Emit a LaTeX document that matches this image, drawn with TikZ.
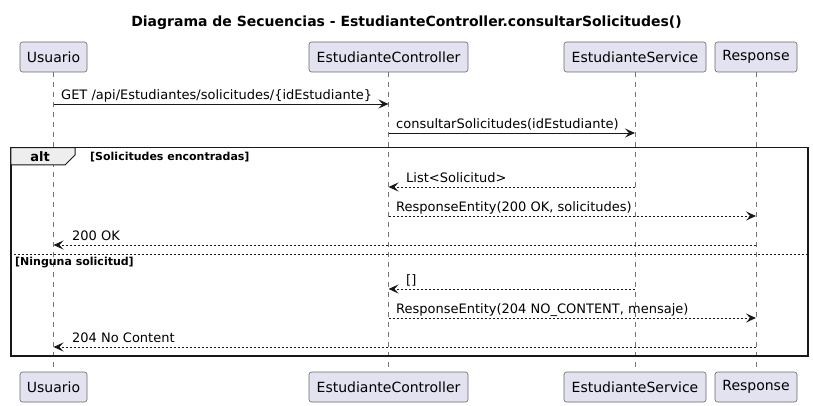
\documentclass[tikz,border=0pt]{standalone}
\usepackage{fontspec}
\setmainfont{DejaVu Sans}
\usetikzlibrary{arrows.meta}
\definecolor{partfill}{HTML}{E2E2F0}
\definecolor{ink}{HTML}{181818}
\definecolor{tabfill}{HTML}{EEEEEE}
\begin{document}
\begin{tikzpicture}[x=1pt,y=-1pt,
  part/.style={draw=ink!65,fill=partfill,rounded corners=2.5pt,line width=0.6pt,minimum height=30pt,inner sep=0pt,font=\fontsize{14}{16}\selectfont},
  lifeline/.style={draw=ink!60,line width=0.6pt,dash pattern=on 5pt off 5pt},
  msg/.style={draw=ink,line width=0.9pt,-{Stealth[length=10pt,width=9pt,inset=4pt]}},
  ret/.style={msg,dash pattern=on 2pt off 2pt},
  lbl/.style={font=\fontsize{13}{15}\selectfont,anchor=base west,inner sep=0pt,text=black},
  guard/.style={font=\bfseries\fontsize{11}{13}\selectfont,anchor=base west,inner sep=0pt}]
\useasboundingbox (0,0) rectangle (813,406);
% title
\node[font=\bfseries\fontsize{14}{16}\selectfont,anchor=base] (title) at (406.5,27) {Diagrama de Secuencias - EstudianteController.consultarSolicitudes()};
% participants top
\node[part,minimum width=67pt] (uT) at (53.5,57) {Usuario};
\node[part,minimum width=159pt] (cT) at (388.5,57) {EstudianteController};
\node[part,minimum width=142pt] (sT) at (635,57) {EstudianteService};
\node[part,minimum width=82pt] (rT) at (756,57) {Response};
% participants bottom
\node[part,minimum width=67pt] (uB) at (53.5,387) {Usuario};
\node[part,minimum width=159pt] (cB) at (388.5,387) {EstudianteController};
\node[part,minimum width=142pt] (sB) at (635,387) {EstudianteService};
\node[part,minimum width=82pt] (rB) at (756,387) {Response};
% lifelines
\draw[lifeline] (uT.south) -- (uB.north);
\draw[lifeline] (cT.south) -- (cB.north);
\draw[lifeline] (sT.south) -- (sB.north);
\draw[lifeline] (rT.south) -- (rB.north);
% alt frame
\node[draw=ink,line width=1.5pt,minimum width=797pt,minimum height=208pt,inner sep=0pt,anchor=north west] (frame) at (10,147) {};
\draw[ink,line width=1pt,fill=tabfill] (10.75,147.75) -- (75,147.75) -- (75,155) -- (65,165) -- (10.75,165) -- cycle;
\node[font=\bfseries\fontsize{13}{15}\selectfont,anchor=base] (alt) at (40,161) {alt};
\node[guard] (g1) at (90,160.5) {[Solicitudes encontradas]};
\coordinate (sepL) at (10,254);
\coordinate (sepR) at (807,254);
\draw[ink,line width=0.9pt,dash pattern=on 2pt off 2pt] (sepL) -- (sepR);
\node[guard] (g2) at (15,265) {[Ninguna solicitud]};
% message coordinates
\foreach \n/\y in {1/104,2/133,3/187,4/216,5/245,6/289,7/318,8/347}{
  \coordinate (u\n) at (53.5,\y);
  \coordinate (c\n) at (388.5,\y);
  \coordinate (s\n) at (635,\y);
  \coordinate (r\n) at (756,\y);
}
\draw[msg] (u1) -- (c1);
\node[lbl] (m1) at (61,99.5) {GET /api/Estudiantes/solicitudes/\{idEstudiante\}};
\draw[msg] (c2) -- (s2);
\node[lbl] (m2) at (396,128.5) {consultarSolicitudes(idEstudiante)};
\draw[ret] (s3) -- (c3);
\node[lbl] (m3) at (406,182.5) {List<Solicitud>};
\draw[ret] (c4) -- (r4);
\node[lbl] (m4) at (396,211.5) {ResponseEntity(200 OK, solicitudes)};
\draw[ret] (r5) -- (u5);
\node[lbl] (m5) at (72,240.5) {200 OK};
\draw[ret] (s6) -- (c6);
\node[lbl] (m6) at (406,284.5) {[]};
\draw[ret] (c7) -- (r7);
\node[lbl] (m7) at (396,313.5) {ResponseEntity(204 NO\_CONTENT, mensaje)};
\draw[ret] (r8) -- (u8);
\node[lbl] (m8) at (72,342.5) {204 No Content};
\end{tikzpicture}
\end{document}
